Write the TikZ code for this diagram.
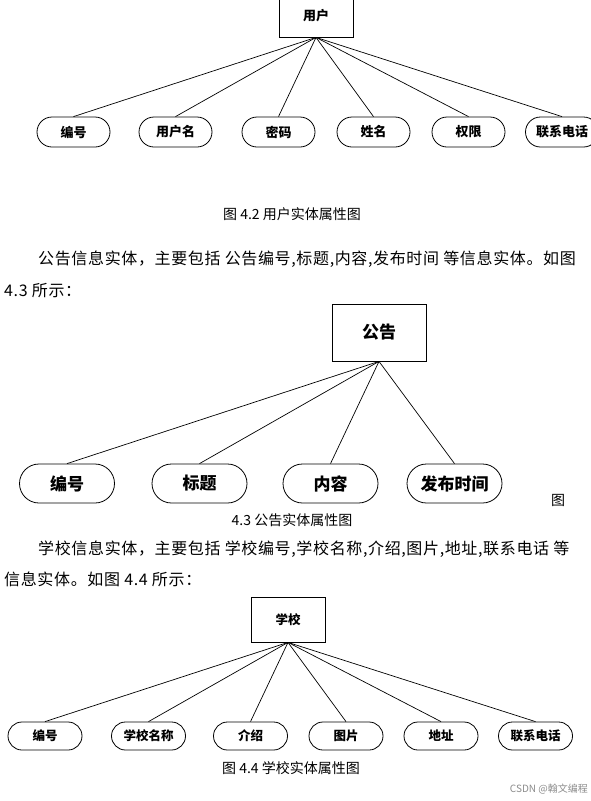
\documentclass[tikz,border=0pt]{standalone}
\usepackage{fontspec}
\setmainfont{Noto Sans CJK SC}
\newfontfamily\parafont[LetterSpace=4]{Noto Sans CJK SC}
\usetikzlibrary{shapes.misc}
\tikzset{
  ent/.style={draw, line width=0.8pt, fill=white, inner sep=0pt},
  attr/.style={draw, rounded rectangle, line width=0.8pt, inner sep=0pt},
  fa/.style={font=\bfseries\fontsize{13}{15}\selectfont},
  fb/.style={font=\bfseries\fontsize{17}{19}\selectfont},
  fc/.style={font=\bfseries\fontsize{12.5}{14}\selectfont},
  link/.style={line width=0.7pt},
  figcaption/.style={inner sep=0pt, font=\fontsize{14}{16}\selectfont},
  para/.style={inner sep=0pt, anchor=west, font=\parafont\fontsize{16}{18}\selectfont}
}
\begin{document}
\begin{tikzpicture}[x=1pt, y=-1pt]
\clip (0,0) rectangle (591,801);
\fill[white] (0,0) rectangle (591,801);
% ---------- Figure 4.2 ----------
\node[ent, fa, minimum width=74pt, minimum height=40pt] (u) at (316,17) {\raisebox{4pt}{用户}};
\node[attr, fa, minimum width=73pt, minimum height=30pt] (u1) at (73.5,132) {编号};
\node[attr, fa, minimum width=73pt, minimum height=30pt] (u2) at (175.5,132) {用户名};
\node[attr, fa, minimum width=73pt, minimum height=30pt] (u3) at (278.5,132) {密码};
\node[attr, fa, minimum width=73pt, minimum height=30pt] (u4) at (373.5,132) {姓名};
\node[attr, fa, minimum width=73pt, minimum height=30pt] (u5) at (468.5,132) {权限};
\node[attr, fa, minimum width=73pt, minimum height=30pt] (u6) at (562,132) {联系电话};
\foreach \i in {1,...,6} \draw[link] (u.south) -- (u\i.north);
\node[figcaption] (c1) at (292,214) {图 4.2 用户实体属性图};
\node[para] (p1) at (38,259) {公告信息实体，主要包括 公告编号,标题,内容,发布时间 等信息实体。如图};
\node[para] (p2) at (4,291) {4.3 所示：};
% ---------- Figure 4.3 ----------
\node[ent, fb, minimum width=94pt, minimum height=57pt] (g) at (379,332.5) {公告};
\node[attr, fb, minimum width=95pt, minimum height=39pt] (g1) at (67,483.5) {编号};
\node[attr, fb, minimum width=95pt, minimum height=39pt] (g2) at (199.5,483.5) {标题};
\node[attr, fb, minimum width=95pt, minimum height=39pt] (g3) at (330.5,483.5) {内容};
\node[attr, fb, minimum width=95pt, minimum height=39pt] (g4) at (454.5,483.5) {发布时间};
\foreach \i in {1,...,4} \draw[link] (g.south) -- (g\i.north);
\node[figcaption] (t) at (558,500) {图};
\node[figcaption] (c2) at (292,520) {4.3 公告实体属性图};
\node[para] (p3) at (38,549) {学校信息实体，主要包括 学校编号,学校名称,介绍,图片,地址,联系电话 等};
\node[para] (p4) at (4,579) {信息实体。如图 4.4 所示：};
% ---------- Figure 4.4 ----------
\node[ent, fc, minimum width=74pt, minimum height=45pt] (s) at (288,619.5) {学校};
\node[attr, fc, minimum width=74pt, minimum height=28pt] (s1) at (45,736) {编号};
\node[attr, fc, minimum width=74pt, minimum height=28pt] (s2) at (148.5,736) {学校名称};
\node[attr, fc, minimum width=74pt, minimum height=28pt] (s3) at (250.5,736) {介绍};
\node[attr, fc, minimum width=74pt, minimum height=28pt] (s4) at (346,736) {图片};
\node[attr, fc, minimum width=74pt, minimum height=28pt] (s5) at (441,736) {地址};
\node[attr, fc, minimum width=74pt, minimum height=28pt] (s6) at (535.5,736) {联系电话};
\foreach \i in {1,...,6} \draw[link] (s.south) -- (s\i.north);
\node[figcaption] (c3) at (291,768) {图 4.4 学校实体属性图};
\node[inner sep=0pt, anchor=east, text=black!45, font=\fontsize{10}{12}\selectfont] (wm) at (588,789) {CSDN @翰文编程};
\end{tikzpicture}
\end{document}
